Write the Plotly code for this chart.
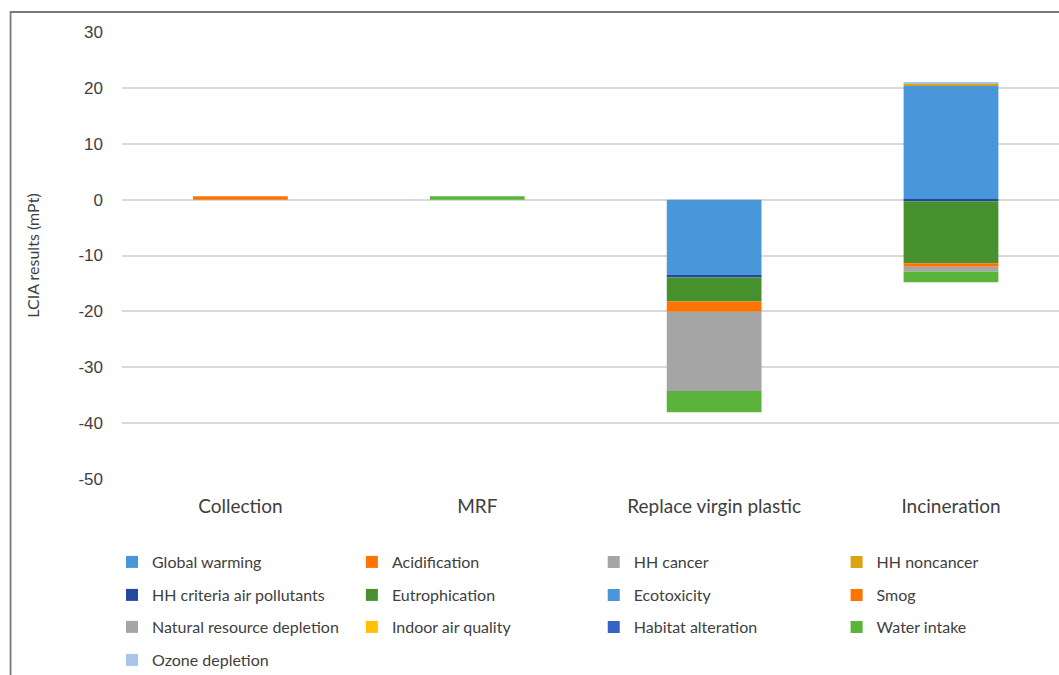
import plotly.graph_objects as go

# Life-cycle impact assessment results per stage (mPt)
categories = ["Collection", "MRF", "Replace virgin plastic", "Incineration"]

impact_names = [
    "Global warming", "Acidification", "HH cancer", "HH noncancer",
    "HH criteria air pollutants", "Eutrophication", "Ecotoxicity", "Smog",
    "Natural resource depletion", "Indoor air quality", "Habitat alteration",
    "Water intake", "Ozone depletion",
]

global_warming = [0.0, 0.0, -13.6, 20.4]
acidification = [0.6, 0.0, 0.0, 0.0]
hh_cancer = [0.0, 0.0, 0.0, 0.0]
hh_noncancer = [0.0, 0.0, 0.0, 0.35]
hh_criteria = [0.0, 0.0, -0.35, -0.3]
eutrophication = [0.0, 0.0, -4.3, -11.1]
ecotoxicity = [0.0, 0.0, 0.0, 0.0]
smog = [0.0, 0.0, -1.8, -0.6]
natural_resource_depletion = [0.0, 0.0, -14.2, -0.9]
indoor_air_quality = [0.0, 0.0, 0.0, 0.0]
habitat_alteration = [0.0, 0.0, 0.0, 0.0]
water_intake = [0.0, 0.6, -3.8, -1.9]
ozone_depletion = [0.0, 0.0, 0.0, 0.15]

series_values = [
    global_warming, acidification, hh_cancer, hh_noncancer, hh_criteria,
    eutrophication, ecotoxicity, smog, natural_resource_depletion,
    indoor_air_quality, habitat_alteration, water_intake, ozone_depletion,
]

colors = [
    "#4A96DA", "#FF7300", "#A5A5A5", "#D9A312",
    "#25479F", "#47902E", "#4A96DA", "#FF7300",
    "#A5A5A5", "#FFC000", "#3A62C6", "#5AB33B", "#A9C5E8",
]

y_ticks = [30, 20, 10, 0, -10, -20, -30, -40, -50]

W, H = 1059, 675
plot_left, plot_top, plot_bottom = 121.5, 32, 479
plot_w = W - plot_left
plot_h = plot_bottom - plot_top


def paper_x(px):
    return (px - plot_left) / plot_w


def paper_y(px):
    return (plot_bottom - px) / plot_h


# legend grid: 4 columns, rows filled left to right
legend_text_x = [152, 392, 634, 877]
legend_row_y = [562, 595, 627, 660]
label_font = dict(family="Lato, 'Open Sans', sans-serif", size=16, color="#404040")

fig = go.Figure()
layout_legends = {}
for i, (name, vals, col) in enumerate(zip(impact_names, series_values, colors)):
    lid = "legend" if i == 0 else f"legend{i + 1}"
    fig.add_trace(go.Bar(
        x=categories, y=vals, name=name,
        marker=dict(color=col, line=dict(width=0)),
        legend=lid,
    ))
    row, col_i = divmod(i, 4)
    layout_legends[lid] = dict(
        orientation="h", xanchor="left", yanchor="middle",
        x=paper_x(legend_text_x[col_i] - 40.5), y=paper_y(legend_row_y[row]),
        font=label_font, bgcolor="rgba(0,0,0,0)",
        itemclick=False, itemdoubleclick=False,
    )

fig.update_layout(
    width=W, height=H,
    margin=dict(l=plot_left, r=0, t=plot_top, b=H - plot_bottom, autoexpand=False),
    paper_bgcolor="white", plot_bgcolor="white",
    barmode="relative", bargap=0.6,
    showlegend=True,
    xaxis=dict(
        range=[-0.5, 3.456], showgrid=False, zeroline=False, showline=False,
        ticks="", tickfont=dict(family="Lato, 'Open Sans', sans-serif", size=19, color="#404040"),
        ticklabelstandoff=14,
    ),
    yaxis=dict(
        range=[-50, 30], tickvals=y_ticks, ticktext=[str(v) for v in y_ticks],
        showgrid=True, gridcolor="#D9D9D9", gridwidth=1.5,
        zeroline=True, zerolinecolor="#D9D9D9", zerolinewidth=1.5,
        showline=False, ticks="",
        tickfont=dict(family="'Liberation Sans', Arial, sans-serif", size=17, color="#404040"),
        ticklabelstandoff=18,
        title=dict(text="LCIA results (mPt)", standoff=34,
                   font=dict(family="Lato, 'Open Sans', sans-serif", size=16, color="#404040")),
    ),
    shapes=[dict(
        type="rect", xref="paper", yref="paper", layer="above",
        x0=paper_x(10), x1=1.2,
        y0=-1.0, y1=paper_y(12),
        line=dict(color="#7A7A7A", width=1.8), fillcolor="rgba(0,0,0,0)",
    )],
    **layout_legends,
)

fig.write_html("out.html")
